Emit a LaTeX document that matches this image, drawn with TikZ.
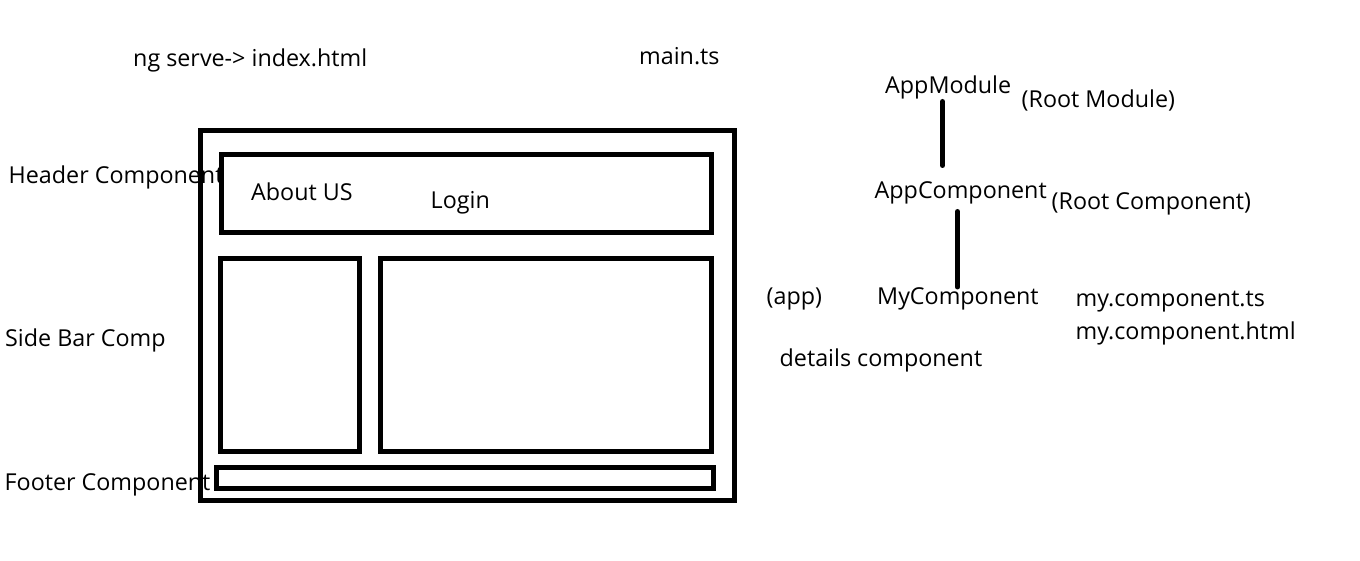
\documentclass[tikz,border=0pt]{standalone}
\usepackage{fontspec}
\setmainfont{Open Sans}
\begin{document}
\begin{tikzpicture}[x=1pt,y=-1pt,
  lbl/.style={anchor=base west,inner sep=0pt,font=\fontsize{23.3}{27}\selectfont},
  frame/.style={draw=black,line width=5pt,line join=miter},
  conn/.style={draw=black,line width=5pt,line cap=round}]
\useasboundingbox[fill=white] (0,0) rectangle (1360,561);
% boxes
\draw[frame] (200.5,130.5) rectangle (734,500);
\draw[frame] (221.7,154.5) rectangle (711,233);
\draw[frame] (220,259) rectangle (359,451.5);
\draw[frame] (380,259) rectangle (711.3,451.5);
\draw[frame] (216,467.5) rectangle (713.5,488.5);
% labels
\node[lbl] (ng) at (133,66.7) {ng serve-> index.html};
\node[lbl] (main) at (639,65) {main.ts};
\node[lbl] (hdr) at (8.5,183.3) {Header Component};
\node[lbl] (about) at (251,201) {About US};
\node[lbl] (login) at (430.5,208.3) {Login};
\node[lbl] (side) at (5,346) {Side Bar Comp};
\node[lbl] (foot) at (4.5,490) {Footer Component};
\node[lbl] (appmod) at (885,93.3) {AppModule};
\node[lbl] (rootmod) at (1021.5,107.5) {(Root Module)};
\node[lbl] (appcomp) at (874.5,198.3) {AppComponent};
\node[lbl] (rootcomp) at (1051.5,210) {(Root Component)};
\node[lbl] (app) at (766.5,305) {(app)};
\node[lbl] (mycomp) at (877,305) {MyComponent};
\node[lbl] (myts) at (1075.5,306.7) {my.component.ts};
\node[lbl] (myhtml) at (1075.5,340) {my.component.html};
\node[lbl] (details) at (779.5,366.7) {details component};
% connectors
\coordinate (c1a) at (942.5,101.5);
\coordinate (c1b) at (942.5,165.5);
\coordinate (c2a) at (957.5,211.5);
\coordinate (c2b) at (957.5,287);
\draw[conn] (c1a) -- (c1b);
\draw[conn] (c2a) -- (c2b);
\end{tikzpicture}
\end{document}
